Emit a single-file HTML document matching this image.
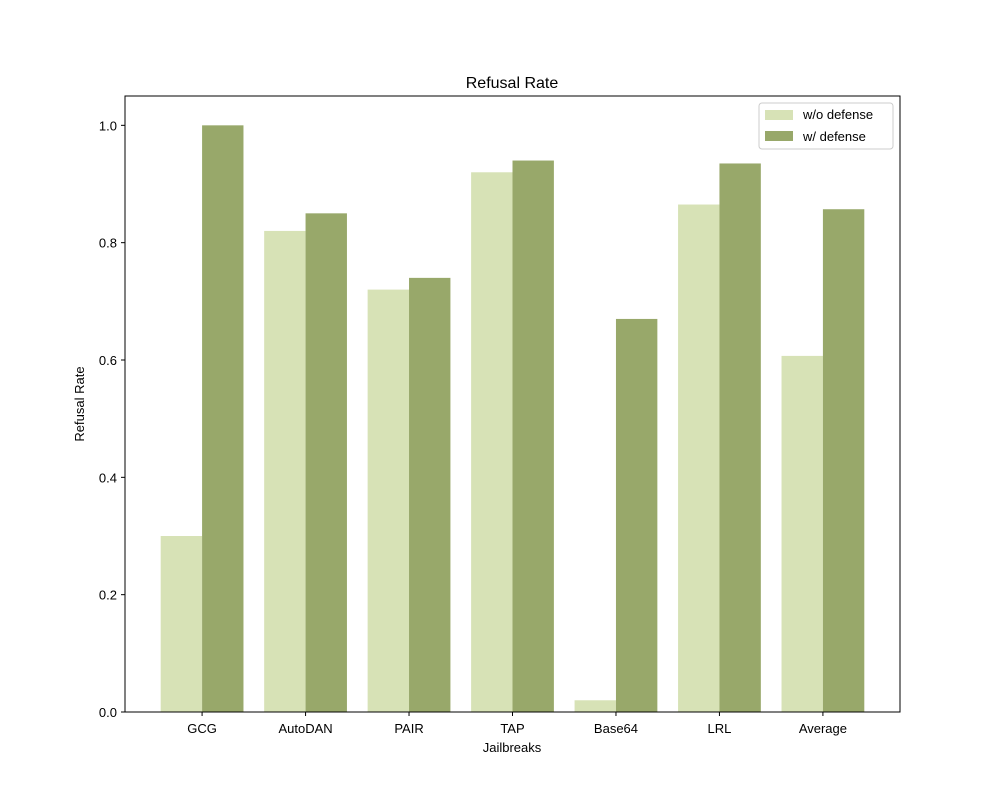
<!DOCTYPE html>
<html><head><meta charset="utf-8"><style>
body{margin:0;background:#fff;}
svg{font-family:"Liberation Sans","DejaVu Sans",sans-serif;}
</style></head><body>
<svg id="chart" width="1000" height="800">
<rect width="1000" height="800" fill="#fff"/>
<text x="512" y="88" font-size="16" text-anchor="middle">Refusal Rate</text>
<g id="plot"></g>
<rect x="125" y="96" width="775" height="616" fill="none" stroke="#000" stroke-width="1"/>
<text x="512" y="752" font-size="13" text-anchor="middle">Jailbreaks</text>
<text x="84" y="404" font-size="13" text-anchor="middle" transform="rotate(-90 84 404)">Refusal Rate</text>
<g>
<rect x="759" y="103" width="134" height="46" fill="#fff" stroke="#ccc" rx="3"/>
<rect x="765" y="110" width="28" height="10" fill="#d7e2b6"/>
<text x="803" y="119" font-size="13">w/o defense</text>
<rect x="765" y="131" width="28" height="10" fill="#98a86a"/>
<text x="803" y="141" font-size="13">w/ defense</text>
</g>
</svg>
<script>
const categories=["GCG","AutoDAN","PAIR","TAP","Base64","LRL","Average"];
const withoutDefense=[0.30,0.82,0.72,0.92,0.02,0.865,0.607];
const withDefense=[1.0,0.85,0.74,0.94,0.67,0.935,0.857];
const yTicks=[0,0.2,0.4,0.6,0.8,1.0];
const NS="http://www.w3.org/2000/svg";
const g=document.getElementById('plot');
const x0=125,x1=900,y0=712,y1=96;
const xmin=-0.745,xmax=6.745,ymin=0,ymax=1.05;
const X=v=>x0+(v-xmin)/(xmax-xmin)*(x1-x0);
const Y=v=>y0-(v-ymin)/(ymax-ymin)*(y0-y1);
function mk(t,a){const e=document.createElementNS(NS,t);for(const k in a)e.setAttribute(k,a[k]);g.appendChild(e);return e;}
categories.forEach((c,i)=>{
 const b1=mk('rect',{x:X(i-0.4),y:Y(withoutDefense[i]),width:X(i)-X(i-0.4),height:Y(0)-Y(withoutDefense[i]),fill:'#d7e2b6'});
 
 
 const b2=mk('rect',{x:X(i),y:Y(withDefense[i]),width:X(i+0.4)-X(i),height:Y(0)-Y(withDefense[i]),fill:'#98a86a'});
 
 
 const tk=mk('line',{x1:X(i),x2:X(i),y1:y0,y2:y0+4,stroke:'#000'});
 
 
 const t=mk('text',{x:X(i),y:y0+21,'font-size':13,'text-anchor':'middle'});
 t.textContent=c;
 
 
});
yTicks.forEach(v=>{
 const tk=mk('line',{x1:x0-4,x2:x0,y1:Y(v),y2:Y(v),stroke:'#000'});
 
 
 const t=mk('text',{x:x0-8,y:Y(v)+5,'font-size':13,'text-anchor':'end'});
 t.textContent=v.toFixed(1);
 
 
});
</script>
</body></html>
